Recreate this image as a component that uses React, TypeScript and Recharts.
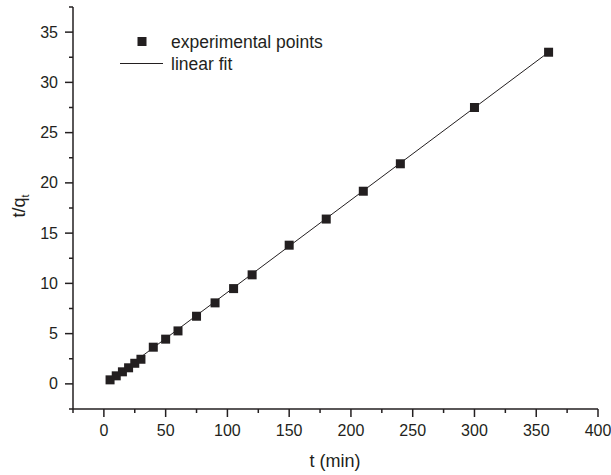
import React from 'react';
import { ScatterChart, Scatter, XAxis, YAxis } from 'recharts';

// experimental points
const tValues = [5, 10, 15, 20, 25, 30, 40, 50, 60, 75, 90, 105, 120, 150, 180, 210, 240, 300, 360];
const tqValues = [0.4, 0.8, 1.2, 1.6, 2.05, 2.45, 3.65, 4.45, 5.27, 6.73, 8.06, 9.48, 10.85, 13.8, 16.4, 19.17, 21.9, 27.5, 33.0];

// end points of the linear fit
const fitT = [5, 360];
const fitTq = [0.38, 33.0];

const xTicks = [-25, 0, 25, 50, 75, 100, 125, 150, 175, 200, 225, 250, 275, 300, 325, 350, 375, 400];
const yTicks = [-2.5, 0, 2.5, 5, 7.5, 10, 12.5, 15, 17.5, 20, 22.5, 25, 27.5, 30, 32.5, 35, 37.5];

const points = tValues.map((t, i) => ({ t, tq: tqValues[i] }));
const fitLine = fitT.map((t, i) => ({ t, tq: fitTq[i] }));

const INK = '#231f20';
const FONT = 'Liberation Sans, Arial, sans-serif';

const XTick = (props: any) => {
  const { x, y, payload } = props;
  const v = payload.value;
  const major = v >= 0 && v % 50 === 0;
  return (
    <g>
      <line x1={x} y1={y} x2={x} y2={y + (major ? 8 : 4)} stroke={INK} strokeWidth={1.5} />
      {major && (
        <text x={x} y={y + 27} textAnchor="middle" fontSize={16} fill={INK} fontFamily={FONT}>
          {v}
        </text>
      )}
    </g>
  );
};

const YTick = (props: any) => {
  const { x, y, payload } = props;
  const v = payload.value;
  const major = v >= 0 && v % 5 === 0;
  return (
    <g>
      <line x1={x} y1={y} x2={x - (major ? 8 : 4)} y2={y} stroke={INK} strokeWidth={1.5} />
      {major && (
        <text x={x - 15} y={y + 5.5} textAnchor="end" fontSize={16} fill={INK} fontFamily={FONT}>
          {v}
        </text>
      )}
    </g>
  );
};

const SquareDot = (props: any) => {
  const { cx, cy } = props;
  if (cx == null || cy == null) return <g />;
  return <rect x={cx - 4.5} y={cy - 4.5} width={9} height={9} fill={INK} />;
};

const NoDot = () => <g />;

export default function App() {
  return (
    <div style={{ position: 'absolute', left: 0, top: 0, width: 611, height: 475, background: '#fff' }}>
      <ScatterChart width={611} height={475} margin={{ top: 7, right: 13, left: 0, bottom: 0 }}>
        <XAxis
          type="number"
          dataKey="t"
          domain={[-25, 400]}
          ticks={xTicks}
          interval={0}
          tickSize={0}
          tickMargin={0}
          tickLine={false}
          tick={<XTick />}
          height={66}
          axisLine={{ stroke: INK, strokeWidth: 1.5 }}
          allowDataOverflow
        />
        <YAxis
          type="number"
          dataKey="tq"
          domain={[-2.5, 37.5]}
          ticks={yTicks}
          interval={0}
          tickSize={0}
          tickMargin={0}
          tickLine={false}
          tick={<YTick />}
          width={73}
          axisLine={{ stroke: INK, strokeWidth: 1.5 }}
          allowDataOverflow
        />
        <Scatter
          data={fitLine}
          line={{ stroke: INK, strokeWidth: 1 }}
          shape={<NoDot />}
          isAnimationActive={false}
          legendType="none"
        />
        <Scatter data={points} shape={<SquareDot />} fill={INK} isAnimationActive={false} />
      </ScatterChart>
      <svg width={260} height={60} style={{ position: 'absolute', left: 110, top: 28 }}>
        <rect x={27.5} y={9} width={9} height={9} fill={INK} />
        <text x={61} y={20} fontSize={17.5} fill={INK} fontFamily={FONT}>experimental points</text>
        <line x1={10} y1={35.5} x2={53} y2={35.5} stroke={INK} strokeWidth={1} />
        <text x={61} y={42} fontSize={17.5} fill={INK} fontFamily={FONT}>linear fit</text>
      </svg>
      <div
        style={{
          position: 'absolute',
          left: 335,
          top: 461,
          transform: 'translate(-50%, -50%)',
          fontSize: 18,
          fontFamily: FONT,
          color: INK,
          whiteSpace: 'nowrap',
        }}
      >
        t (min)
      </div>
      <div
        style={{
          position: 'absolute',
          left: 20,
          top: 206,
          transform: 'translate(-50%, -50%) rotate(-90deg)',
          fontSize: 18,
          fontFamily: FONT,
          color: INK,
          whiteSpace: 'nowrap',
        }}
      >
        t/q<sub style={{ fontSize: 11 }}>t</sub>
      </div>
    </div>
  );
}
